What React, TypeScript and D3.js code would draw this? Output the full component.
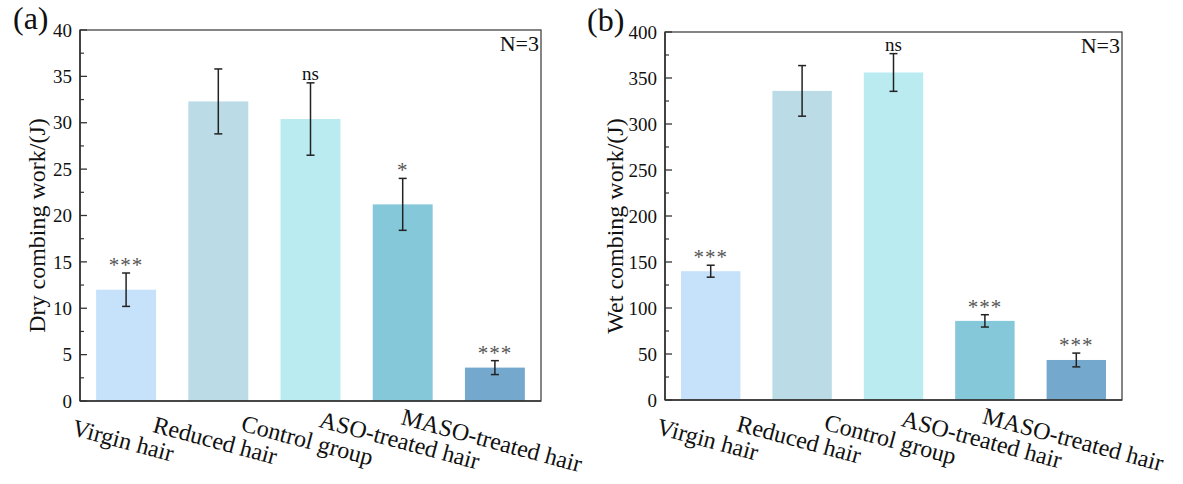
import React from "react";
import * as d3 from "d3";

const categories = ["Virgin hair", "Reduced hair", "Control group", "ASO-treated hair", "MASO-treated hair"];
const barColors = ["#c6e2fb", "#bbdbe6", "#b9ebf1", "#85c8d9", "#74a9cd"];

const dryMeans = [12.0, 32.3, 30.4, 21.2, 3.6];
const dryErrors = [1.8, 3.5, 3.9, 2.8, 0.75];
const drySig = ["***", "", "ns", "*", "***"];
const dryTicks = [0, 5, 10, 15, 20, 25, 30, 35, 40];

const wetMeans = [140, 336, 356, 86, 43.5];
const wetErrors = [6.5, 27.5, 20.5, 6.7, 7.5];
const wetSig = ["***", "", "ns", "***", "***"];
const wetTicks = [0, 50, 100, 150, 200, 250, 300, 350, 400];

const FONT = "'Times New Roman', 'Liberation Serif', serif";

interface PanelProps {
    tag: string;
    yLabel: string;
    means: number[];
    errors: number[];
    sig: string[];
    ticks: number[];
    left: number;
    right: number;
    top: number;
    bottom: number;
    tagX: number;
    labelX: number;
}

function Panel(props: PanelProps) {
    const {left, right, top, bottom, ticks} = props;
    const x = d3.scaleBand<string>()
        .domain(categories)
        .range([left, right])
        .paddingInner(0.35)
        .paddingOuter(0.175);
    const y = d3.scaleLinear()
        .domain([ticks[0], ticks[ticks.length - 1]])
        .range([bottom, top]);
    const half = (ticks[1] - ticks[0]) / 2;
    const minor = ticks.slice(0, -1).map(t => t + half);
    const bw = x.bandwidth();

    return (
        <g fontFamily={FONT}>
            {categories.map((c, i) => (
                <rect key={c} x={x(c)} y={y(props.means[i])} width={bw}
                      height={bottom - y(props.means[i])} fill={barColors[i]} />
            ))}
            {categories.map((c, i) => {
                const cx = (x(c) as number) + bw / 2;
                const hi = y(props.means[i] + props.errors[i]);
                const lo = y(props.means[i] - props.errors[i]);
                return (
                    <g key={c} stroke="#222" strokeWidth={1.5}>
                        <line x1={cx} x2={cx} y1={hi} y2={lo} />
                        <line x1={cx - 4} x2={cx + 4} y1={hi} y2={hi} />
                        <line x1={cx - 4} x2={cx + 4} y1={lo} y2={lo} />
                    </g>
                );
            })}
            {categories.map((c, i) => {
                if (!props.sig[i]) return null;
                const cx = (x(c) as number) + bw / 2;
                const hi = y(props.means[i] + props.errors[i]);
                const isStar = props.sig[i].startsWith("*");
                return (
                    <text key={c} x={cx} y={isStar ? hi - 1 : hi - 3} textAnchor="middle"
                          fontSize={isStar ? 21 : 19} fill={isStar ? "#555" : "#111"}
                          letterSpacing={isStar ? 1 : 0}>
                        {props.sig[i]}
                    </text>
                );
            })}
            {/* frame */}
            <rect x={left} y={top} width={right - left} height={bottom - top}
                  fill="none" stroke="#444" strokeWidth={1.3} />
            <line x1={left} x2={right} y1={bottom} y2={bottom} stroke="#333" strokeWidth={1.6} />
            <line x1={left} x2={left} y1={top} y2={bottom} stroke="#333" strokeWidth={1.6} />
            {ticks.map(t => (
                <g key={t}>
                    <line x1={left} x2={left + 7} y1={y(t)} y2={y(t)} stroke="#333" strokeWidth={1.3} />
                    <text x={left - 8} y={y(t)} dy="0.35em" textAnchor="end" fontSize={19} fill="#111">{t}</text>
                </g>
            ))}
            {minor.map(t => (
                <line key={t} x1={left} x2={left + 4} y1={y(t)} y2={y(t)} stroke="#333" strokeWidth={1.2} />
            ))}
            <text x={right - 2} y={top + 21} textAnchor="end" fontSize={22} fill="#111">N=3</text>
            <text x={props.tagX} y={top - 1} fontSize={32} fill="#111">{props.tag}</text>
            <text transform={`translate(${props.labelX},${(top + bottom) / 2 + 10}) rotate(-90)`}
                  textAnchor="middle" dy="0.35em" fontSize={24} fill="#111">{props.yLabel}</text>
            {categories.map(c => {
                const cx = (x(c) as number) + bw / 2 - 3;
                return (
                    <text key={c} transform={`translate(${cx},${bottom + 39}) rotate(15)`}
                          textAnchor="middle" dy="0.35em" fontSize={24} fill="#111">{c}</text>
                );
            })}
        </g>
    );
}

export default function App() {
    return (
        <div style={{position: "absolute", left: 0, top: 0}}>
            <svg width={1183} height={484} style={{display: "block", background: "#fff"}}>
                <Panel tag="(a)" yLabel="Dry combing work/(J)" means={dryMeans} errors={dryErrors}
                       sig={drySig} ticks={dryTicks} left={80} right={541} top={30} bottom={401}
                       tagX={13} labelX={37} />
                <Panel tag="(b)" yLabel="Wet combing work/(J)" means={wetMeans} errors={wetErrors}
                       sig={wetSig} ticks={wetTicks} left={665} right={1122} top={32} bottom={400}
                       tagX={587} labelX={615} />
            </svg>
        </div>
    );
}
